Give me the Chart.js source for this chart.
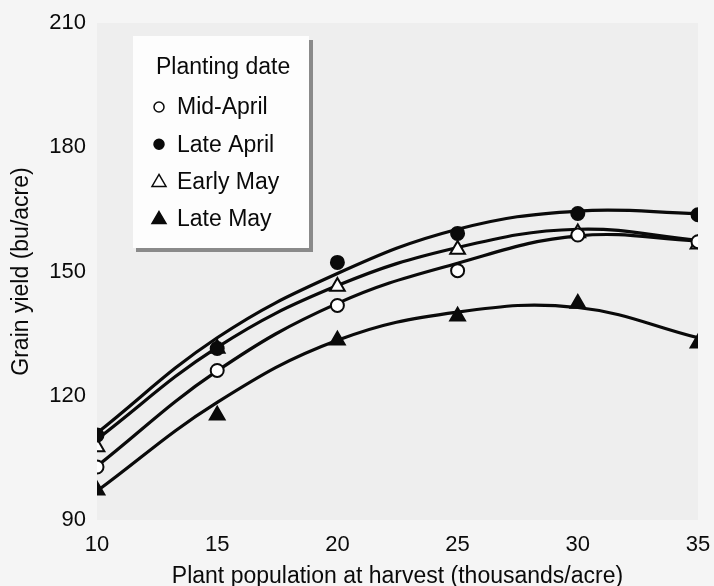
<!DOCTYPE html>
<html>
<head>
<meta charset="utf-8">
<script src="https://cdn.jsdelivr.net/npm/chart.js@4/dist/chart.umd.min.js"></script>
<style>
  html, body { margin: 0; padding: 0; background: #f5f5f5; }
  #wrap { width: 714px; height: 586px; }
</style>
</head>
<body>
<div id="wrap"><canvas id="yieldChart"></canvas></div>
<script>
// plant population (thousands/acre)
const population = [10, 15, 20, 25, 30, 35];
const yTicks = [90, 120, 150, 180, 210];

const midApril   = [102.8, 126.1, 141.8, 150.2, 158.8, 157.2];
const lateApril  = [110.5, 131.4, 152.2, 159.2, 164.0, 163.7];
const earlyMay   = [107.6, 131.4, 146.4, 155.3, 159.3, 156.6];
const lateMay    = [97.2, 115.3, 133.4, 139.2, 142.3, 132.7];

// fitted curves at the same populations
const midAprilFit  = [103.0, 126.0, 142.3, 152.0, 158.6, 157.4];
const lateAprilFit = [111.0, 134.0, 149.5, 160.2, 164.6, 164.0];
const earlyMayFit  = [109.5, 131.7, 146.6, 155.8, 160.2, 157.5];
const lateMayFit   = [97.0, 118.4, 133.4, 140.2, 141.3, 134.0];

const toXY = vals => vals.map((v, i) => ({ x: population[i], y: v }));
const ink = "#0a0a0a";
const font = "'Liberation Sans', Arial, Helvetica, sans-serif";

function markers(label, vals, style, filled) {
  return {
    label: label,
    data: toXY(vals),
    showLine: false,
    pointStyle: style,
    pointRadius: style === "triangle" ? 8.5 : 6.5,
    pointBorderWidth: 2,
    pointBorderColor: ink,
    pointBackgroundColor: filled ? ink : "#fff",
    order: 0
  };
}

function curve(vals) {
  return {
    label: "",
    data: toXY(vals),
    showLine: true,
    tension: 0.4,
    borderColor: ink,
    borderWidth: 3.2,
    pointRadius: 0,
    fill: false,
    order: 1
  };
}

// light plot background and the boxed legend
const decor = {
  id: "decor",
  beforeDraw(chart) {
    const { ctx, chartArea: a } = chart;
    ctx.save();
    ctx.fillStyle = "#eeeeee";
    ctx.fillRect(a.left, a.top, a.right - a.left, a.bottom - a.top);
    ctx.restore();
  },
  afterDraw(chart) {
    const ctx = chart.ctx;
    const bx = 133, by = 36, bw = 176, bh = 212;
    ctx.save();
    ctx.fillStyle = "#8a8a8a";
    ctx.fillRect(bx + 3, by + bh, bw + 1, 4);
    ctx.fillRect(bx + bw, by + 4, 4, bh);
    ctx.fillStyle = "#fdfdfd";
    ctx.fillRect(bx, by, bw, bh);

    ctx.fillStyle = ink;
    ctx.textBaseline = "middle";
    ctx.font = "23px " + font;
    ctx.fillText("Planting date", 156, 68);

    const items = chart.data.datasets.filter(d => d.order === 0);
    items.forEach((d, i) => {
      const cy = 107 + i * 37.2;
      const cx = 159;
      ctx.beginPath();
      ctx.lineWidth = 1.5;
      ctx.strokeStyle = ink;
      ctx.fillStyle = d.pointBackgroundColor;
      if (d.pointStyle === "circle") {
        ctx.arc(cx, cy, 5, 0, Math.PI * 2);
      } else {
        ctx.moveTo(cx, cy - 7);
        ctx.lineTo(cx + 7, cy + 5);
        ctx.lineTo(cx - 7, cy + 5);
        ctx.closePath();
      }
      ctx.fill();
      ctx.stroke();
      ctx.fillStyle = ink;
      ctx.fillText(d.label, 177, cy + 1);
    });
    ctx.restore();
  }
};

new Chart(document.getElementById("yieldChart"), {
  type: "scatter",
  data: {
    datasets: [
      markers("Mid-April", midApril, "circle", false),
      markers("Late April", lateApril, "circle", true),
      markers("Early May", earlyMay, "triangle", false),
      markers("Late May", lateMay, "triangle", true),
      curve(midAprilFit),
      curve(lateAprilFit),
      curve(earlyMayFit),
      curve(lateMayFit)
    ]
  },
  options: {
    responsive: true,
    maintainAspectRatio: false,
    animation: false,
    layout: { padding: { top: 23, right: 16, bottom: 0, left: 0 } },
    plugins: {
      legend: { display: false },
      tooltip: { enabled: false }
    },
    scales: {
      x: {
        type: "linear",
        min: 10,
        max: 35,
        afterBuildTicks: s => { s.ticks = population.map(v => ({ value: v })); },
        afterFit: s => { s.height = 66; s.paddingLeft = 0; s.paddingRight = 0; },
        grid: { display: false, drawTicks: false },
        border: { display: false },
        ticks: { color: ink, padding: 12, font: { size: 22, family: font } },
        title: {
          display: true,
          text: "Plant population at harvest (thousands/acre)",
          color: ink,
          font: { size: 23, family: font, lineHeight: 1 },
          padding: { top: 0, bottom: -2 }
        }
      },
      y: {
        min: 90,
        max: 210,
        afterBuildTicks: s => { s.ticks = yTicks.map(v => ({ value: v })); },
        afterFit: s => { s.width = 97; s.paddingTop = 0; s.paddingBottom = 0; },
        grid: { display: false, drawTicks: false },
        border: { display: false },
        ticks: { color: ink, padding: 11, font: { size: 22, family: font } },
        title: {
          display: true,
          text: "Grain yield (bu/acre)",
          color: ink,
          font: { size: 23, family: font, lineHeight: 1.2 },
          padding: { top: 8, bottom: 0 }
        }
      }
    }
  },
  plugins: [decor]
});
</script>
</body>
</html>
